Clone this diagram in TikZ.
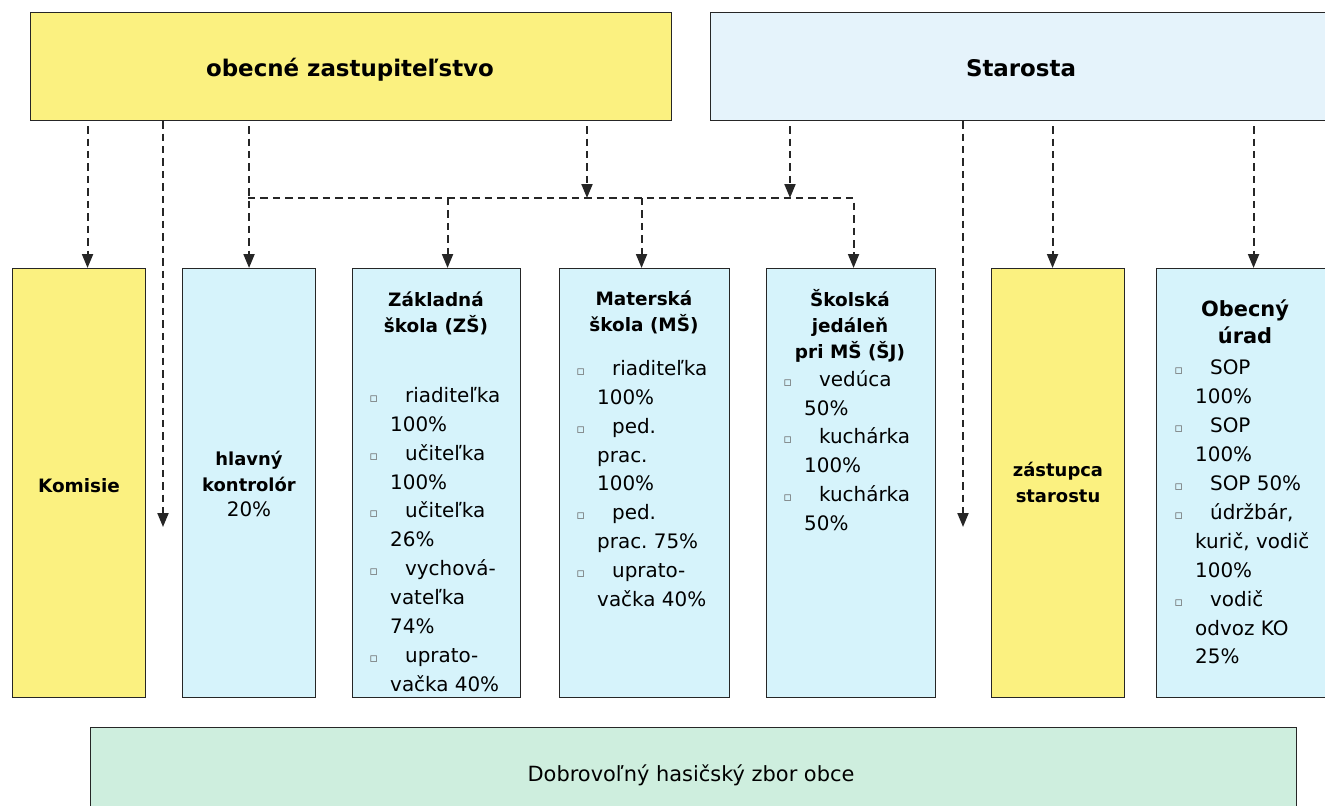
\documentclass[tikz,border=0pt]{standalone}
\usepackage{fontspec}
\setmainfont{DejaVu Sans}
\usetikzlibrary{arrows.meta}
\definecolor{yel}{RGB}{251,241,128}
\definecolor{blu}{RGB}{214,243,251}
\definecolor{blu2}{RGB}{229,243,251}
\definecolor{grn}{RGB}{206,238,222}
\definecolor{bulc}{RGB}{105,105,105}
\frenchspacing
\newcommand\bul{\leavevmode\llap{\textcolor{bulc}{\fontsize{13}{13}\selectfont ▫}\hspace{12pt}}\hspace*{15pt}}
\begin{document}
\begin{tikzpicture}[x=1bp,y=-1bp,
  box/.style={draw=black!85, line width=1.1pt, anchor=north west, inner sep=0pt},
  yb/.style={box, fill=yel},
  bb/.style={box, fill=blu},
  dl/.style={dash pattern=on 7.5pt off 5pt, line width=2pt, draw=black!85},
  arr/.style={dl, -{Triangle[width=11pt,length=14pt]}},
  big/.style={font=\fontsize{23}{28}\selectfont\bfseries, inner sep=0pt},
  hd/.style={font=\fontsize{18.5}{26}\selectfont\bfseries, align=center, inner sep=0pt},
  lst/.style={font=\fontsize{20}{29}\selectfont, align=left, anchor=north west, inner sep=0pt},
]
\useasboundingbox (0,0) rectangle (1325,805);
\clip (0,0) rectangle (1325,805);

% top boxes
\node[yb, minimum width=641bp, minimum height=108bp] (oz) at (30,12) {};
\node[big] (ozt) at (350,70) {obecné zastupiteľstvo};
\node[box, fill=blu2, minimum width=625bp, minimum height=108bp] (st) at (710,12) {};
\node[big] (stt) at (1021,68) {Starosta};

% lower boxes
\node[yb, minimum width=133bp, minimum height=429bp] (kom) at (12,268) {};
\node[bb, minimum width=133bp, minimum height=429bp] (hk) at (182,268) {};
\node[bb, minimum width=168bp, minimum height=429bp] (zs) at (352,268) {};
\node[bb, minimum width=170bp, minimum height=429bp] (ms) at (559,268) {};
\node[bb, minimum width=169bp, minimum height=429bp] (sj) at (766,268) {};
\node[yb, minimum width=133bp, minimum height=429bp] (zst) at (991,268) {};
\node[bb, minimum width=185bp, minimum height=429bp] (ou) at (1156,268) {};
\node[box, fill=grn, minimum width=1206bp, minimum height=110bp] (dhz) at (90,727) {};

% texts
\node[hd] (komt) at (79,486) {Komisie};
\node[hd, font=\fontsize{18}{26}\selectfont\bfseries] (hkt) at (249,484) {hlavný\\kontrolór\\{\mdseries\fontsize{20}{26}\selectfont 20\%}};
\node[hd] (zsh) at (436,313) {Základná\\škola (ZŠ)};
\node[lst] (zsl) at (390,387) {\bul riaditeľka\\100\%\\\bul učiteľka\\100\%\\\bul učiteľka\\26\%\\\bul vychová-\\vateľka\\74\%\\\bul uprato-\\vačka 40\%};
\node[hd] (msh) at (644,312) {Materská\\škola (MŠ)};
\node[lst] (msl) at (597,360) {\bul riaditeľka\\100\%\\\bul ped.\\prac.\\100\%\\\bul ped.\\prac. 75\%\\\bul uprato-\\vačka 40\%};
\node[hd] (sjh) at (850,326) {Školská\\jedáleň\\pri MŠ (ŠJ)};
\node[lst] (sjl) at (804,370) {\bul vedúca\\50\%\\\bul kuchárka\\100\%\\\bul kuchárka\\50\%};
\node[hd, font=\fontsize{18}{26}\selectfont\bfseries] (zstt) at (1058,482) {zástupca\\starostu};
\node[hd, font=\fontsize{21}{27}\selectfont\bfseries] (ouh) at (1245,322) {Obecný\\úrad};
\node[lst] (oul) at (1195,360) {\bul SOP\\100\%\\\bul SOP\\100\%\\\bul SOP 50\%\\\bul údržbár,\\kurič, vodič\\100\%\\\bul vodič\\odvoz KO\\25\%};
\node[font=\fontsize{21}{26}\selectfont, inner sep=0pt] (dhzt) at (691,775) {Dobrovoľný hasičský zbor obce};

% connector coordinates
\coordinate (kin) at ([xshift=8.5bp]kom.north);
\coordinate (zin) at ([xshift=11bp]zs.north);
\coordinate (min) at ([xshift=-3bp]ms.north);
\coordinate (sin) at ([xshift=2.5bp]sj.north);
\coordinate (zsin) at ([xshift=-5.5bp]zst.north);
\coordinate (oin) at ([xshift=4.5bp]ou.north);
\coordinate (e1) at (163,527);
\coordinate (e2) at (963,527);
\coordinate (bL) at (248,198);
\coordinate (j1) at (587,198);
\coordinate (j2) at (790,198);

% connectors
\draw[arr, shorten <=5pt] (oz.south -| kin) -- (kin);
\draw[arr] (oz.south -| e1) -- (e1);
\draw[arr, shorten <=5pt] (oz.south -| hk.north) -- (hk.north);
\draw[arr, shorten <=5pt] (oz.south -| j1) -- (j1);
\draw[arr, shorten <=5pt] (st.south -| j2) -- (j2);
\draw[arr] (bL) -- (bL -| sin) -- (sin);
\draw[arr] (bL -| zin) -- (zin);
\draw[arr] (bL -| min) -- (min);
\draw[arr] (st.south -| e2) -- (e2);
\draw[arr, shorten <=5pt] (st.south -| zsin) -- (zsin);
\draw[arr, shorten <=5pt] (st.south -| oin) -- (oin);
\end{tikzpicture}
\end{document}
